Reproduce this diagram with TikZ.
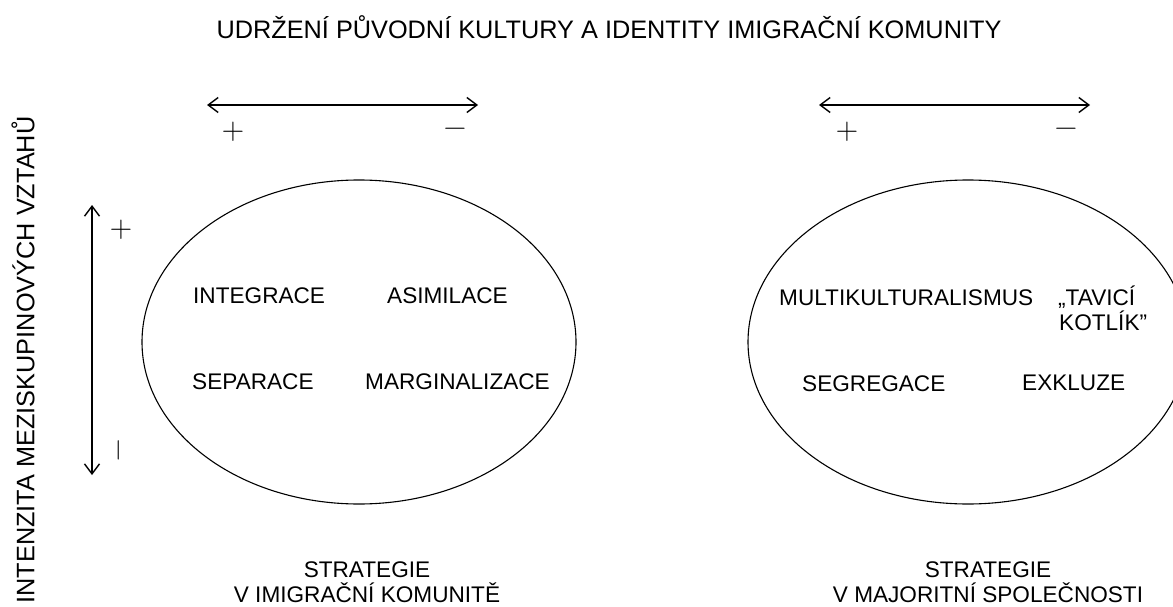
\documentclass[tikz,border=0pt]{standalone}
\usepackage{fontspec}
\setmainfont{Liberation Sans}
\newfontfamily\signfont{Latin Modern Roman}
\usetikzlibrary{arrows.meta}

\begin{document}
\begin{tikzpicture}[x=1pt,y=-1pt,>={Straight Barb[length=10pt,width=15pt]},
        every node/.style={inner sep=0pt},
        big/.style={font=\fontsize{25.3}{30}\selectfont},
        lbl/.style={font=\fontsize{22.6}{25}\selectfont,text height=16.2pt,text depth=0pt},
        sgn/.style={font=\signfont\fontsize{31}{31}\selectfont},
        axis/.style={line width=1.4pt},
        ring/.style={line width=1.1pt}]
        \useasboundingbox (0,0) rectangle (1173,607);
        \clip (0,0) rectangle (1173,607);

        \node[big] (title) at (609,27) {UDRŽENÍ PŮVODNÍ KULTURY A IDENTITY IMIGRAČNÍ KOMUNITY};
        \node[big,rotate=90] (vztahy) at (23,360) {INTENZITA MEZISKUPINOVÝCH VZTAHŮ};

        \coordinate (hL0) at (207,105);
        \coordinate (hL1) at (478,105);
        \coordinate (hR0) at (819,105);
        \coordinate (hR1) at (1090,105);
        \coordinate (v0) at (92,205);
        \coordinate (v1) at (92,475);

        \draw[axis,<->] (hL0) -- (hL1);
        \draw[axis,<->] (hR0) -- (hR1);
        \draw[axis,<->] (v0) -- (v1);

        \node[sgn] (plusL) at (233,132) {+};
        \node[sgn] (minusL) at (455,132) {−};
        \node[sgn] (plusR) at (847,132) {+};
        \node[sgn] (minusR) at (1066,132) {−};
        \node[sgn] (plusV) at (121,230) {+};
        \node[sgn,rotate=90] (minusV) at (122,450) {−};

        \coordinate (cL) at (359,342);
        \coordinate (cR) at (968,342);
        \draw[ring] (cL) ellipse [x radius=217, y radius=162];
        \draw[ring] (cR) ellipse [x radius=220, y radius=162];

        \node[lbl,anchor=west] (integ) at (193,295) {INTEGRACE};
        \node[lbl,anchor=west] (asim) at (387,295) {ASIMILACE};
        \node[lbl,anchor=west] (separ) at (192,381) {SEPARACE};
        \node[lbl,anchor=west] (margin) at (365,381) {MARGINALIZACE};

        \node[lbl,anchor=west] (multi) at (779,297) {MULTIKULTURALISMUS};
        \node[lbl,anchor=west] (tavici) at (1058,297) {„TAVICÍ};
        \node[lbl,anchor=west] (kotlik) at (1059,322) {KOTLÍK”};
        \node[lbl,anchor=west] (segreg) at (802,383) {SEGREGACE};
        \node[lbl,anchor=west] (exkl) at (1022,382) {EXKLUZE};

        \node[lbl] (stratL) at (367,569) {STRATEGIE};
        \node[lbl] (komun) at (367,594) {V IMIGRAČNÍ KOMUNITĚ};
        \node[lbl] (stratR) at (988,569) {STRATEGIE};
        \node[lbl] (major) at (988,594) {V MAJORITNÍ SPOLEČNOSTI};
\end{tikzpicture}
\end{document}
